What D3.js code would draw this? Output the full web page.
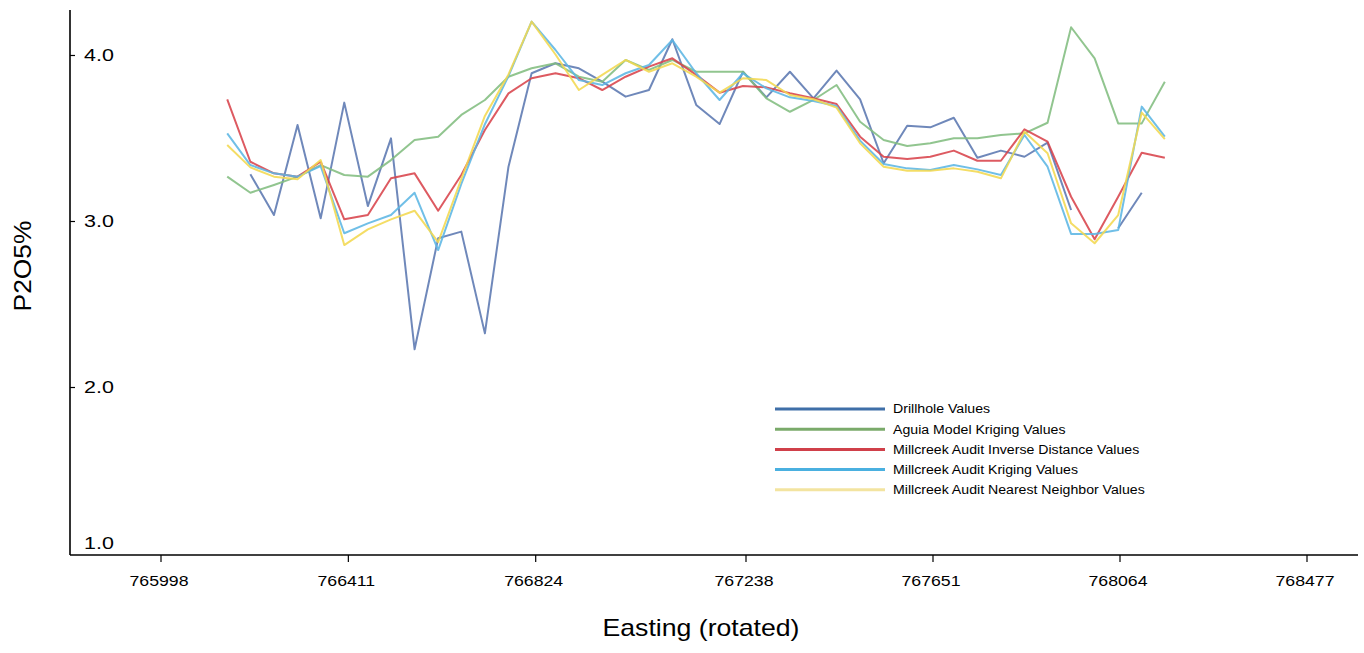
<!DOCTYPE html>
<html>
<head>
<meta charset="utf-8">
<script src="https://cdn.jsdelivr.net/npm/d3@7/dist/d3.min.js"></script>
<style>
  html, body { margin: 0; padding: 0; background: #fff; }
  svg { display: block; font-family: "Liberation Sans", Arial, sans-serif; }
</style>
</head>
<body>
<svg id="chart" width="1364" height="653"></svg>
<script>
// ---- data ----
const eastings = [766144, 766195, 766247, 766299, 766350, 766402, 766454, 766505, 766557, 766609,
  766660, 766712, 766764, 766815, 766863, 766909, 766955, 767001, 767047, 767093,
  767140, 767186, 767232, 767283, 767335, 767387, 767438, 767490, 767542, 767594,
  767645, 767697, 767749, 767801, 767853, 767904, 767956, 768008, 768060, 768112, 768163];

const drillhole = [null, 3.278, 3.033, 3.575, 3.013, 3.710, 3.087, 3.495, 2.224, 2.893,
  2.933, 2.320, 3.324, 3.887, 3.947, 3.917, 3.836, 3.746, 3.786, 4.092,
  3.696, 3.581, 3.896, 3.742, 3.896, 3.736, 3.903, 3.730, 3.345, 3.571,
  3.561, 3.619, 3.378, 3.421, 3.384, 3.469, 3.063, null, 2.953, 3.167, null];

const aguiaKriging = [3.264, 3.167, 3.214, 3.264, 3.334, 3.274, 3.264, 3.364, 3.485, 3.505,
  3.636, 3.726, 3.866, 3.917, 3.947, 3.866, 3.836, 3.967, 3.907, 3.967,
  3.896, 3.896, 3.896, 3.736, 3.655, 3.726, 3.816, 3.595, 3.485, 3.449,
  3.465, 3.495, 3.495, 3.515, 3.525, 3.589, 4.164, 3.977, 3.585, 3.585, 3.836];

const millInvDist = [3.730, 3.354, 3.284, 3.264, 3.354, 3.007, 3.033, 3.254, 3.284, 3.059,
  3.274, 3.545, 3.766, 3.857, 3.887, 3.857, 3.786, 3.866, 3.927, 3.977,
  3.877, 3.770, 3.810, 3.802, 3.766, 3.736, 3.702, 3.505, 3.384, 3.370,
  3.384, 3.421, 3.360, 3.360, 3.549, 3.475, 3.143, 2.887, 3.143, 3.408, 3.378];

const millKriging = [3.525, 3.334, 3.284, 3.264, 3.328, 2.923, 2.983, 3.033, 3.167, 2.822,
  3.220, 3.580, 3.870, 4.198, 4.027, 3.846, 3.816, 3.887, 3.937, 4.087,
  3.887, 3.726, 3.887, 3.796, 3.742, 3.720, 3.690, 3.481, 3.340, 3.314,
  3.304, 3.334, 3.308, 3.274, 3.515, 3.324, 2.919, 2.919, 2.943, 3.686, 3.505];

const millNearest = [3.455, 3.320, 3.264, 3.248, 3.364, 2.852, 2.947, 3.007, 3.059, 2.870,
  3.250, 3.630, 3.880, 4.198, 4.000, 3.786, 3.877, 3.967, 3.896, 3.947,
  3.866, 3.770, 3.857, 3.846, 3.756, 3.730, 3.680, 3.465, 3.324, 3.300,
  3.300, 3.314, 3.294, 3.254, 3.535, 3.405, 2.983, 2.863, 3.033, 3.650, 3.490];

const xTicks = [765998, 766411, 766824, 767238, 767651, 768064, 768477];
const yTicks = [1.0, 2.0, 3.0, 4.0];

const seriesNames = ["Drillhole Values", "Aguia Model Kriging Values",
  "Millcreek Audit Inverse Distance Values", "Millcreek Audit Kriging Values",
  "Millcreek Audit Nearest Neighbor Values"];
const seriesValues = [drillhole, aguiaKriging, millInvDist, millKriging, millNearest];
const seriesColors = ["#5b77b0", "#82bd80", "#d8434b", "#5cb6e4", "#f2d850"];
const legendColors = ["#3f6fa8", "#7aaa6a", "#d0404a", "#4ab0e0", "#f3e4a0"];

// ---- layout ----
const svg = d3.select("#chart");
const axisX0 = 70, axisX1 = 1358, axisY = 555, axisTop = 10;

const x = d3.scaleLinear()
  .domain([765998, 766824, 767238, 768477])
  .range([161, 535.7, 746, 1307]);
const y = d3.scaleLinear().domain([0.985, 4.268]).range([axisY, axisTop]);

// horizontally widen text to match the reference's stretched typography
function stretch(sel, factor) {
  sel.each(function () {
    const w = this.getComputedTextLength();
    d3.select(this).attr("textLength", w * factor).attr("lengthAdjust", "spacingAndGlyphs");
  });
}

// lines
const line = d3.line()
  .defined(d => d.v !== null)
  .x(d => x(d.e))
  .y(d => y(d.v));

seriesValues.forEach((vals, k) => {
  const pts = eastings.map((e, i) => ({ e, v: vals[i] }));
  svg.append("path")
    .datum(pts)
    .attr("d", line)
    .attr("fill", "none")
    .attr("stroke", seriesColors[k])
    .attr("stroke-width", 2)
    .attr("stroke-opacity", 0.88)
    .attr("stroke-linejoin", "round");
});

// y axis
svg.append("line").attr("x1", axisX0).attr("x2", axisX0).attr("y1", axisTop).attr("y2", axisY)
  .attr("stroke", "#000").attr("stroke-width", 1.6);
const yg = svg.append("g");
yTicks.forEach(t => {
  if (t > 1.0) {
    yg.append("line").attr("x1", axisX0).attr("x2", axisX0 + 5)
      .attr("y1", y(t) + 1).attr("y2", y(t) + 1).attr("stroke", "#000").attr("stroke-width", 1.2);
  }
  const txt = yg.append("text")
    .attr("x", axisX0 + 14)
    .attr("y", y(t) + 1)
    .attr("dy", t === 1.0 ? "-0.25em" : "0.36em")
    .attr("font-size", 16.5)
    .attr("fill", "#000")
    .text(d3.format(".1f")(t));
  stretch(txt, 1.3);
});

// x axis
svg.append("line").attr("x1", axisX0).attr("x2", axisX1).attr("y1", axisY).attr("y2", axisY)
  .attr("stroke", "#000").attr("stroke-width", 1.6);
const xg = svg.append("g");
xTicks.forEach(t => {
  xg.append("line").attr("x1", x(t)).attr("x2", x(t)).attr("y1", axisY).attr("y2", axisY + 7)
    .attr("stroke", "#000").attr("stroke-width", 1.2);
  const txt = xg.append("text")
    .attr("x", x(t) - 2).attr("y", 586)
    .attr("text-anchor", "middle")
    .attr("font-size", 15)
    .attr("fill", "#000")
    .text(t);
  stretch(txt, 1.18);
});

// axis titles
const yt = svg.append("text")
  .attr("transform", "translate(31,266) rotate(-90)")
  .attr("text-anchor", "middle")
  .attr("font-size", 24)
  .attr("fill", "#000")
  .text("P2O5%");
stretch(yt, 1.1);
const xt = svg.append("text")
  .attr("x", 701).attr("y", 636)
  .attr("text-anchor", "middle")
  .attr("font-size", 24)
  .attr("fill", "#000")
  .text("Easting (rotated)");
stretch(xt, 1.11);

// legend
const lg = svg.append("g").attr("transform", "translate(775,409)");
seriesNames.forEach((name, i) => {
  const yy = i * 20.2;
  lg.append("line").attr("x1", 0).attr("x2", 110).attr("y1", yy).attr("y2", yy)
    .attr("stroke", legendColors[i]).attr("stroke-width", 3);
  const txt = lg.append("text").attr("x", 118).attr("y", yy).attr("dy", "0.35em")
    .attr("font-size", 12.5).attr("fill", "#000").text(name);
  stretch(txt, 1.13);
});
</script>
</body>
</html>
